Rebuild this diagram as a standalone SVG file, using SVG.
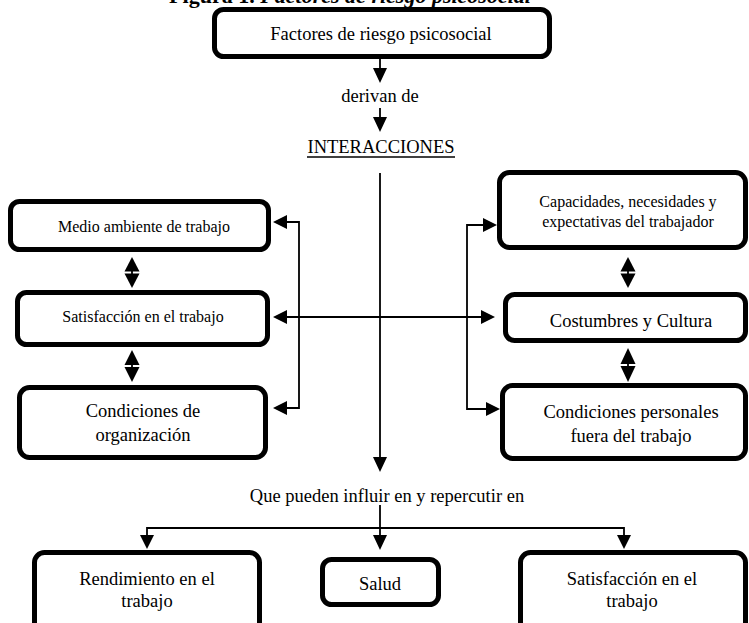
<svg xmlns="http://www.w3.org/2000/svg" width="749" height="623" viewBox="0 0 749 623">
<style>
  .box { fill: #ffffff; stroke: #000000; stroke-width: 5; }
  .t { font-family: "Liberation Serif", "Times New Roman", serif; fill: #000000; text-anchor: middle; }
  .s16 { font-size: 16px; }
  .s18 { font-size: 18.5px; }
  .ln { fill: none; stroke: #000000; stroke-width: 1.8; }
  .hd { fill: #000000; stroke: none; }
</style>
<rect x="0" y="0" width="749" height="623" fill="#ffffff"/>

<text class="t" x="350" y="3" style="font-size:22px;font-weight:bold">Figura 1. <tspan font-style="italic">Factores de riesgo psicosocial</tspan></text>

<g id="connectors">
  <!-- top arrows -->
  <line class="ln" x1="380" y1="58" x2="380" y2="70"/>
  <polygon class="hd" points="373,68 387,68 380,83"/>
  <line class="ln" x1="380" y1="108" x2="380" y2="119"/>
  <polygon class="hd" points="373,117 387,117 380,132"/>
  <!-- long vertical -->
  <line class="ln" x1="380" y1="173" x2="380" y2="459"/>
  <polygon class="hd" points="373,457 387,457 380,472"/>
  <!-- left bracket -->
  <polyline class="ln" points="285,222 299,222 299,408 285,408"/>
  <polygon class="hd" points="287,215 287,229 273,222"/>
  <polygon class="hd" points="287,401 287,415 273,408"/>
  <!-- middle horizontal -->
  <line class="ln" x1="285" y1="317" x2="483" y2="317"/>
  <polygon class="hd" points="287,310 287,324 273,317"/>
  <polygon class="hd" points="481,310 481,324 495,317"/>
  <!-- right bracket -->
  <polyline class="ln" points="485,225 467,225 467,409 488,409"/>
  <polygon class="hd" points="483,218 483,232 497,225"/>
  <polygon class="hd" points="486,402 486,416 500,409"/>
  <!-- double arrows -->
  <line class="ln" x1="132" y1="266" x2="132" y2="279"/>
  <polygon class="hd" points="132,257 124.5,271.5 139.5,271.5"/>
  <polygon class="hd" points="124.5,273.5 139.5,273.5 132,288"/>
  <line class="ln" x1="132" y1="359" x2="132" y2="373"/>
  <polygon class="hd" points="132,350 124.5,365 139.5,365"/>
  <polygon class="hd" points="124.5,367 139.5,367 132,382"/>
  <line class="ln" x1="628" y1="266" x2="628" y2="279"/>
  <polygon class="hd" points="628,257 620.5,271.5 635.5,271.5"/>
  <polygon class="hd" points="620.5,273.5 635.5,273.5 628,288"/>
  <line class="ln" x1="628" y1="357" x2="628" y2="373"/>
  <polygon class="hd" points="628,348 620.5,364 635.5,364"/>
  <polygon class="hd" points="620.5,366 635.5,366 628,382"/>
  <!-- bottom branching -->
  <line class="ln" x1="380" y1="505" x2="380" y2="537"/>
  <polygon class="hd" points="373,535 387,535 380,550"/>
  <polyline class="ln" points="147,537 147,528 624,528 624,537"/>
  <polygon class="hd" points="140,535 154,535 147,549"/>
  <polygon class="hd" points="617,535 631,535 624,549"/>
</g>

<g id="n-factores">
  <rect class="box" x="214.5" y="9.5" width="335" height="47" rx="9"/>
  <text class="t s18" x="381" y="40">Factores de riesgo psicosocial</text>
</g>
<g id="n-derivan">
  <text class="t s18" x="380" y="102">derivan de</text>
</g>
<g id="n-interacciones">
  <text class="t s18" x="381" y="153">INTERACCIONES</text>
  <line x1="307" y1="157" x2="455" y2="157" stroke="#000" stroke-width="1.3"/>
</g>
<g id="n-medio">
  <rect class="box" x="10.5" y="201.5" width="258" height="48" rx="9"/>
  <text class="t s16" x="144" y="232">Medio ambiente de trabajo</text>
</g>
<g id="n-satisf-left">
  <rect class="box" x="17.5" y="292.5" width="250" height="52" rx="9"/>
  <text class="t s16" x="143" y="322">Satisfacción en el trabajo</text>
</g>
<g id="n-condorg">
  <rect class="box" x="19.5" y="387.5" width="246" height="70" rx="10"/>
  <text class="t s18" x="143" y="417">Condiciones de</text>
  <text class="t s18" x="143" y="441">organización</text>
</g>
<g id="n-capacidades">
  <rect class="box" x="499.5" y="172.5" width="246" height="75" rx="10"/>
  <text class="t s16" x="628" y="207">Capacidades, necesidades y</text>
  <text class="t s16" x="628" y="227">expectativas del trabajador</text>
</g>
<g id="n-costumbres">
  <rect class="box" x="505.5" y="294.5" width="240" height="46" rx="9"/>
  <text class="t s18" x="631" y="327">Costumbres y Cultura</text>
</g>
<g id="n-condpers">
  <rect class="box" x="502.5" y="385.5" width="243" height="73" rx="10"/>
  <text class="t s18" x="631" y="418">Condiciones personales</text>
  <text class="t s18" x="631" y="442">fuera del trabajo</text>
</g>
<g id="n-que">
  <text class="t s18" x="387" y="502">Que pueden influir en y repercutir en</text>
</g>
<g id="n-rendimiento">
  <rect class="box" x="34.5" y="552.5" width="225" height="82" rx="10"/>
  <text class="t s18" x="147" y="585">Rendimiento en el</text>
  <text class="t s18" x="147" y="607">trabajo</text>
</g>
<g id="n-salud">
  <rect class="box" x="322.5" y="559.5" width="116" height="45" rx="9"/>
  <text class="t s18" x="380" y="590">Salud</text>
</g>
<g id="n-satisf-bottom">
  <rect class="box" x="520.5" y="552.5" width="225" height="82" rx="10"/>
  <text class="t s18" x="632" y="585">Satisfacción en el</text>
  <text class="t s18" x="632" y="607">trabajo</text>
</g>
</svg>
